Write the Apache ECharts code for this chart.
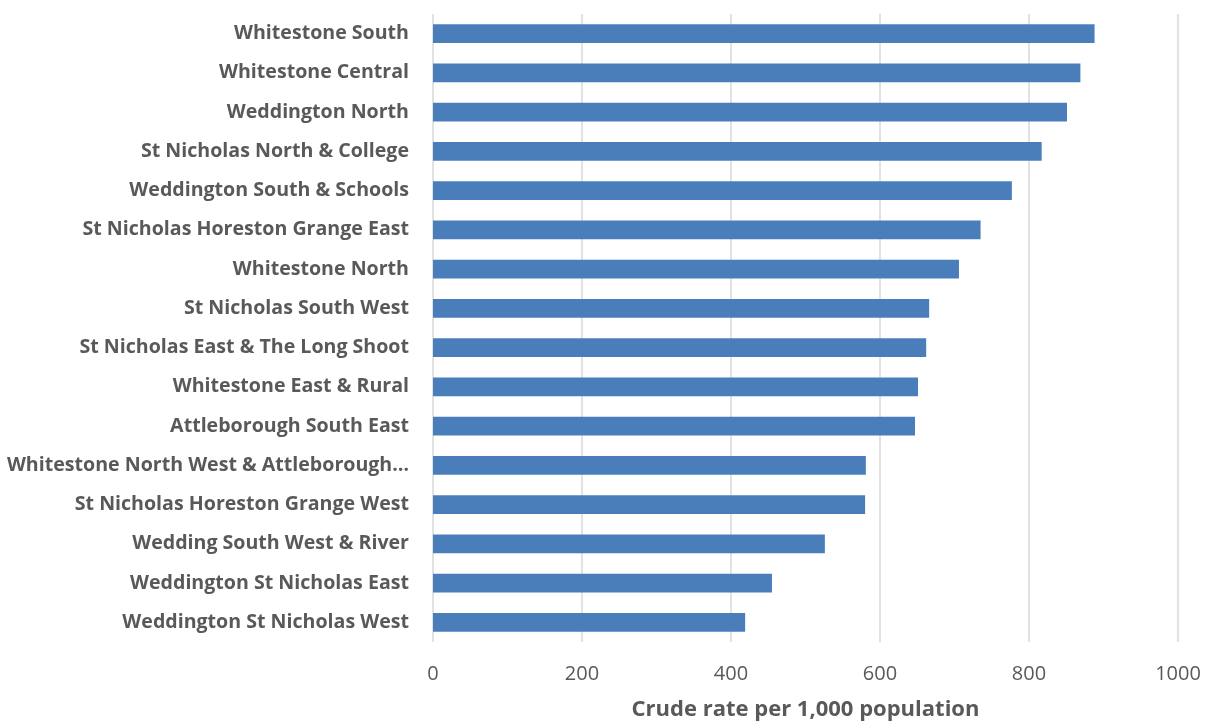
<!DOCTYPE html>
<html>
<head>
<meta charset="utf-8">
<script src="https://cdn.jsdelivr.net/npm/echarts@6/dist/echarts.min.js"></script>
<style>
  html, body { margin: 0; padding: 0; background: #ffffff; }
  #chart { width: 1205px; height: 722px; }
</style>
</head>
<body>
<div id="chart"></div>
<script>
// Wards, listed from bottom to top as drawn on the category axis
const wards = [
  'Weddington St Nicholas West',
  'Weddington St Nicholas East',
  'Wedding South West & River',
  'St Nicholas Horeston Grange West',
  'Whitestone North West & Attleborough…',
  'Attleborough South East',
  'Whitestone East & Rural',
  'St Nicholas East & The Long Shoot',
  'St Nicholas South West',
  'Whitestone North',
  'St Nicholas Horeston Grange East',
  'Weddington South & Schools',
  'St Nicholas North & College',
  'Weddington North',
  'Whitestone Central',
  'Whitestone South'
];

// Crude rate per 1,000 population
const crudeRate = [419, 455, 526, 580, 581, 647, 651, 662, 666, 706, 735, 777, 817, 851, 869, 888];

const xTicks = [0, 200, 400, 600, 800, 1000];

const chart = echarts.init(document.getElementById('chart'));
chart.setOption({
  animation: false,
  backgroundColor: '#ffffff',
  grid: { left: 433, right: 27, top: 14, bottom: 80, containLabel: false, outerBoundsMode: 'none' },
  xAxis: {
    type: 'value',
    min: xTicks[0],
    max: xTicks[xTicks.length - 1],
    interval: 200,
    name: 'Crude rate per 1,000 population',
    nameLocation: 'middle',
    nameGap: 57,
    nameTextStyle: { color: '#595959', fontFamily: 'Open Sans', fontWeight: 'bold', fontSize: 22 },
    axisLine: { show: false },
    axisTick: { show: false },
    axisLabel: {
      color: '#595959', fontFamily: 'Open Sans', fontSize: 20, margin: 22,
      formatter: v => String(v)
    },
    splitLine: { show: true, lineStyle: { color: '#d9d9d9', width: 1.5 } }
  },
  yAxis: {
    type: 'category',
    data: wards,
    axisLine: { show: false },
    axisTick: { show: false },
    axisLabel: { color: '#595959', fontFamily: 'Open Sans', fontWeight: 'bold', fontSize: 19.6, margin: 24 }
  },
  series: [{
    type: 'bar',
    data: crudeRate,
    barWidth: '48%',
    itemStyle: { color: '#4a7ebb' }
  }]
});
</script>
</body>
</html>
